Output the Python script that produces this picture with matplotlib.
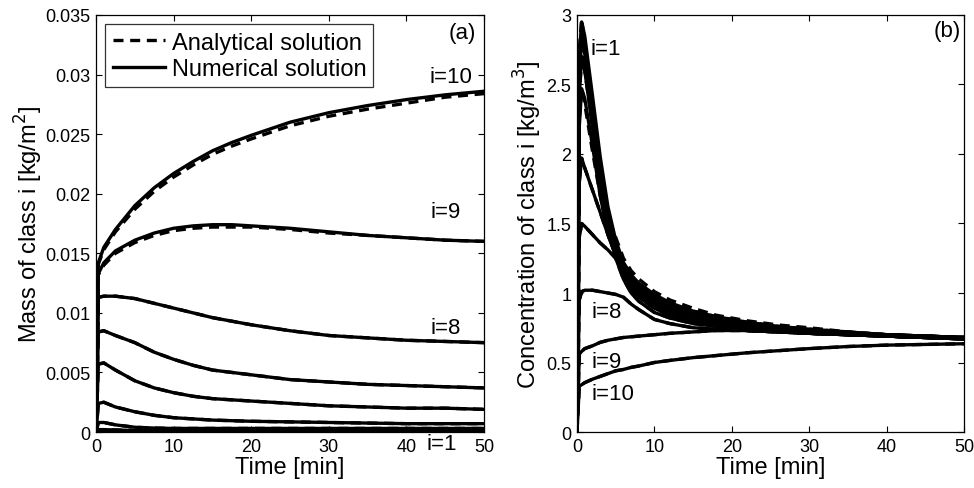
import matplotlib
matplotlib.use("Agg")
import matplotlib.pyplot as plt

plt.rcParams['font.family'] = ['Liberation Sans', 'DejaVu Sans']

#%% data
# (a) mass of class i, time grid
t_mass = [0, 0.3, 1, 2.5, 5, 7.5, 10, 12.5, 15, 17.5, 20, 25, 30, 35, 40, 45, 50]
mass_num = [
    [0, 0.00005, 0.00005, 0.00004, 0.00003, 0.00003, 0.00003, 0.00002, 0.00002, 0.00002, 0.00002, 0.00002, 0.00002, 0.00002, 0.00002, 0.00002, 0.00002],
    [0, 0.0001, 0.0001, 0.00009, 0.00007, 0.00006, 0.00005, 0.00005, 0.00005, 0.00005, 0.00005, 0.00005, 0.00005, 0.00005, 0.00005, 0.00005, 0.00005],
    [0, 0.0002, 0.0002, 0.00017, 0.00013, 0.00011, 0.0001, 0.0001, 0.0001, 0.0001, 0.0001, 0.0001, 0.0001, 0.0001, 0.0001, 0.0001, 0.0001],
    [0, 0.0008, 0.0008, 0.0006, 0.0004, 0.00033, 0.0003, 0.0003, 0.0003, 0.0003, 0.0003, 0.0003, 0.0003, 0.0003, 0.0003, 0.0003, 0.0003],
    [0, 0.0024, 0.0025, 0.0021, 0.0017, 0.0014, 0.0012, 0.0011, 0.0010, 0.00095, 0.0009, 0.00085, 0.0008, 0.00075, 0.0007, 0.0007, 0.0007],
    [0, 0.0057, 0.0058, 0.0052, 0.0043, 0.0037, 0.0033, 0.0030, 0.0028, 0.0027, 0.0026, 0.0024, 0.0022, 0.0021, 0.0020, 0.0020, 0.0019],
    [0, 0.0084, 0.0085, 0.0081, 0.0075, 0.0067, 0.0061, 0.0056, 0.0052, 0.0050, 0.0048, 0.0044, 0.0042, 0.0040, 0.0039, 0.0038, 0.0037],
    [0, 0.0113, 0.0114, 0.0114, 0.0112, 0.0108, 0.0104, 0.0100, 0.0096, 0.0093, 0.0090, 0.0085, 0.0081, 0.0079, 0.0077, 0.0076, 0.0075],
    [0, 0.0133, 0.0142, 0.0152, 0.0161, 0.0167, 0.0171, 0.0173, 0.0174, 0.0174, 0.0173, 0.0171, 0.0168, 0.0165, 0.0163, 0.0161, 0.0160],
    [0, 0.0142, 0.0155, 0.0170, 0.0190, 0.0205, 0.0217, 0.0227, 0.0236, 0.0243, 0.0249, 0.0260, 0.0268, 0.0274, 0.0279, 0.0283, 0.0286],
]
# analytical differs visibly only for the top two classes
mass_ana_diff = {
    9: [0, 0.0132, 0.0140, 0.0150, 0.0159, 0.0165, 0.0169, 0.0171, 0.0172, 0.0172, 0.0172, 0.0170, 0.0167, 0.0165, 0.0163, 0.0161, 0.0160],
    10: [0, 0.0141, 0.0153, 0.0168, 0.0187, 0.0202, 0.0214, 0.0224, 0.0233, 0.0240, 0.0246, 0.0257, 0.0265, 0.0271, 0.0276, 0.0281, 0.0284],
}

# (b) concentration of class i, time grid
t_conc = [0, 0.3, 0.6, 1, 2, 3, 4, 5, 6, 7, 8, 10, 12, 15, 18, 22, 26, 30, 35, 40, 45, 50]
conc_num = [
    [0, 2.70, 2.95, 2.85, 2.42, 1.98, 1.62, 1.38, 1.22, 1.13, 1.07, 0.99, 0.93, 0.87, 0.83, 0.79, 0.76, 0.74, 0.72, 0.70, 0.69, 0.68],
    [0, 2.62, 2.89, 2.78, 2.35, 1.92, 1.57, 1.35, 1.20, 1.11, 1.05, 0.97, 0.91, 0.86, 0.82, 0.78, 0.75, 0.73, 0.71, 0.70, 0.69, 0.68],
    [0, 2.55, 2.83, 2.72, 2.29, 1.86, 1.52, 1.32, 1.18, 1.09, 1.03, 0.95, 0.90, 0.85, 0.81, 0.77, 0.75, 0.73, 0.71, 0.70, 0.69, 0.68],
    [0, 2.42, 2.70, 2.60, 2.20, 1.80, 1.47, 1.30, 1.16, 1.07, 1.01, 0.93, 0.88, 0.83, 0.80, 0.76, 0.74, 0.72, 0.71, 0.69, 0.68, 0.68],
    [0, 2.20, 2.47, 2.40, 2.06, 1.70, 1.42, 1.27, 1.14, 1.05, 0.99, 0.91, 0.86, 0.82, 0.79, 0.75, 0.73, 0.72, 0.70, 0.69, 0.68, 0.67],
    [0, 1.80, 1.97, 1.90, 1.74, 1.58, 1.42, 1.27, 1.12, 1.03, 0.97, 0.89, 0.84, 0.80, 0.77, 0.74, 0.73, 0.71, 0.70, 0.69, 0.68, 0.67],
    [0, 1.40, 1.50, 1.48, 1.42, 1.36, 1.31, 1.25, 1.10, 1.00, 0.94, 0.86, 0.82, 0.78, 0.76, 0.73, 0.72, 0.71, 0.70, 0.69, 0.68, 0.67],
    [0, 0.95, 1.01, 1.02, 1.02, 1.01, 1.00, 0.99, 0.97, 0.92, 0.88, 0.81, 0.78, 0.75, 0.74, 0.73, 0.72, 0.71, 0.70, 0.69, 0.68, 0.67],
    [0, 0.56, 0.58, 0.60, 0.62, 0.645, 0.66, 0.67, 0.68, 0.685, 0.69, 0.70, 0.71, 0.72, 0.73, 0.73, 0.72, 0.71, 0.70, 0.69, 0.68, 0.67],
    [0, 0.33, 0.34, 0.355, 0.38, 0.40, 0.42, 0.44, 0.45, 0.465, 0.475, 0.50, 0.515, 0.535, 0.55, 0.57, 0.585, 0.60, 0.615, 0.625, 0.63, 0.635],
]
conc_ana_diff = {
    1: [0, 2.75, 2.97, 2.80, 2.30, 1.85, 1.55, 1.40, 1.25, 1.16, 1.10, 1.01, 0.95, 0.89, 0.84, 0.80, 0.77, 0.75, 0.72, 0.70, 0.69, 0.68],
    3: [0, 2.60, 2.85, 2.65, 2.20, 1.80, 1.52, 1.36, 1.22, 1.13, 1.06, 0.98, 0.92, 0.87, 0.83, 0.79, 0.76, 0.74, 0.72, 0.70, 0.69, 0.68],
    5: [0, 2.25, 2.48, 2.36, 2.02, 1.70, 1.45, 1.31, 1.18, 1.09, 1.02, 0.94, 0.89, 0.84, 0.81, 0.77, 0.75, 0.73, 0.71, 0.70, 0.69, 0.68],
}

mass_labels = [("i=10", 45.7, 0.0298), ("i=9", 45.0, 0.0185), ("i=8", 45.0, 0.0088), ("i=1", 44.6, -0.0010)]
conc_labels = [("i=1", 1.7, 2.76), ("i=8", 1.9, 0.87), ("i=9", 1.9, 0.51), ("i=10", 1.9, 0.28)]

#%% plotting
fig = plt.figure(figsize=(9.74, 4.89), dpi=100)
ax1 = fig.add_axes([0.0986, 0.1145, 0.3984, 0.8528])
ax2 = fig.add_axes([0.5924, 0.1145, 0.3973, 0.8528])

lw = 2.4
for k, y in enumerate(mass_num):
    ya = mass_ana_diff.get(k + 1, y)
    ax1.plot(t_mass, ya, 'k--', lw=lw, dashes=(3, 2))
    ax1.plot(t_mass, y, 'k-', lw=lw)

for k, y in enumerate(conc_num):
    ya = conc_ana_diff.get(k + 1, y)
    ax2.plot(t_conc, ya, 'k--', lw=lw, dashes=(3, 2))
    ax2.plot(t_conc, y, 'k-', lw=lw)

# legend handles
ax1.plot([], [], 'k--', lw=2.4, dashes=(3, 2), label='Analytical solution')
ax1.plot([], [], 'k-', lw=2.4, label='Numerical solution')
h, l = ax1.get_legend_handles_labels()
leg = ax1.legend(h[-2:], l[-2:], loc='upper left', fontsize=17, frameon=True, fancybox=False,
                 edgecolor='k', handlelength=2.2, handletextpad=0.3, borderpad=0.3,
                 labelspacing=0.2, borderaxespad=0.4)
leg.get_frame().set_linewidth(0.9)

for txt, x, y in mass_labels:
    ax1.text(x, y, txt, fontsize=16, ha='center', va='center', clip_on=False)
for txt, x, y in conc_labels:
    ax2.text(x, y, txt, fontsize=16, ha='left', va='center')

ax1.text(47.2, 0.0335, '(a)', fontsize=16, ha='center', va='center')
ax2.text(47.8, 2.89, '(b)', fontsize=16, ha='center', va='center')

ax1.set_xlim(0, 50)
ax1.set_ylim(0, 0.035)
ax1.set_yticks([0, 0.005, 0.01, 0.015, 0.02, 0.025, 0.03, 0.035])
ax1.set_yticklabels(['0', '0.005', '0.01', '0.015', '0.02', '0.025', '0.03', '0.035'])
ax1.set_ylabel('Mass of class i [kg/m$^2$]', fontsize=17, labelpad=0)

ax2.set_xlim(0, 50)
ax2.set_ylim(0, 3)
ax2.set_yticks([0, 0.5, 1, 1.5, 2, 2.5, 3])
ax2.set_yticklabels(['0', '0.5', '1', '1.5', '2', '2.5', '3'])
ax2.set_ylabel('Concentration of class i [kg/m$^3$]', fontsize=17, labelpad=2)

for ax in (ax1, ax2):
    ax.set_xticks([0, 10, 20, 30, 40, 50])
    ax.set_xlabel('Time [min]', fontsize=17, labelpad=1)
    ax.tick_params(direction='in', top=True, right=True, labelsize=13, length=4, width=0.8, pad=4)
    for s in ax.spines.values():
        s.set_linewidth(0.9)

fig.savefig('out.png', dpi=100)
